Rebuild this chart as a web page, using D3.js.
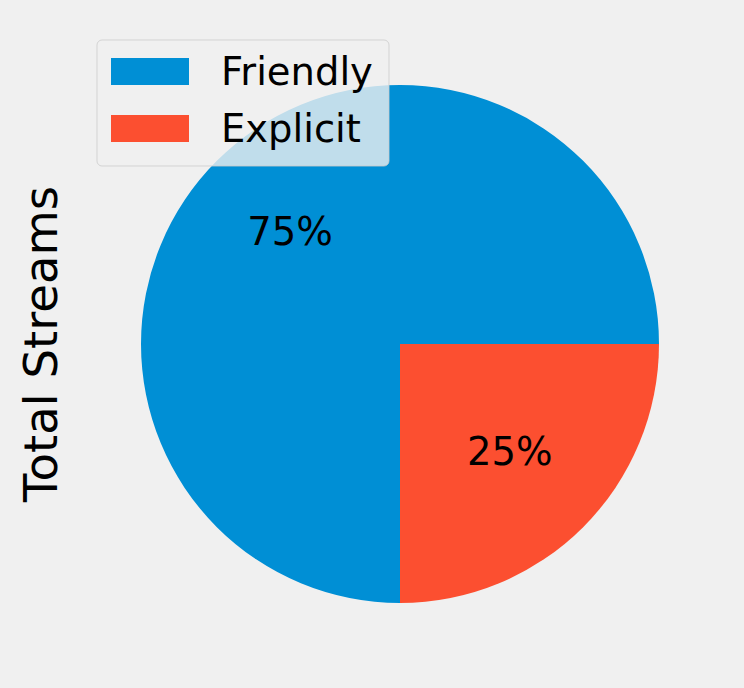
<!DOCTYPE html>
<html><head><meta charset="utf-8">
<script src="https://cdn.jsdelivr.net/npm/d3@7"></script>
<style>html,body{margin:0;padding:0;background:#f0f0f0;}svg{display:block;}</style>
</head><body>
<script>
const categories = ["Friendly", "Explicit"];
const values = [75, 25];
const colors = ["#008fd5", "#fc4f30"];
const yLabel = "Total Streams";

const W = 744, H = 688;
const cx = 400, cy = 344, R = 259;
const font = "'DejaVu Sans', sans-serif";

const svg = d3.select("body").append("svg").attr("width", W).attr("height", H);
svg.append("rect").attr("width", W).attr("height", H).attr("fill", "#f0f0f0");

const total = d3.sum(values);
const pie = d3.pie().sort(null).startAngle(Math.PI / 2).endAngle(Math.PI / 2 - 2 * Math.PI);
const arcs = pie(values);
const arc = d3.arc().innerRadius(0).outerRadius(R);
const labelArc = d3.arc().innerRadius(0.6 * R).outerRadius(0.6 * R);

const g = svg.append("g").attr("transform", `translate(${cx},${cy})`);
g.selectAll("path.slice").data(arcs).join("path")
  .attr("class", "slice")
  .attr("d", arc)
  .attr("fill", (d, i) => colors[i]);

g.selectAll("text.pct").data(arcs).join("text")
  .attr("class", "pct")
  .attr("transform", d => `translate(${labelArc.centroid(d)})`)
  .attr("text-anchor", "middle")
  .attr("dy", "0.28em")
  .attr("font-family", font)
  .attr("font-size", 38.5)
  .attr("fill", "#000")
  .text(d => Math.round(d.value / total * 100) + "%");

svg.append("text")
  .attr("transform", `translate(57,${cy}) rotate(-90)`)
  .attr("text-anchor", "middle")
  .attr("font-family", font)
  .attr("font-size", 46.5)
  .attr("fill", "#000")
  .text(yLabel);

// legend
const lg = svg.append("g");
lg.append("rect")
  .attr("x", 97).attr("y", 40).attr("width", 292).attr("height", 126)
  .attr("rx", 5).attr("ry", 5)
  .attr("fill", "#f0f0f0").attr("fill-opacity", 0.8)
  .attr("stroke", "#cccccc").attr("stroke-opacity", 0.8).attr("stroke-width", 1);
const items = lg.selectAll("g.item").data(categories).join("g")
  .attr("class", "item")
  .attr("transform", (d, i) => `translate(0,${i * 57})`);
items.append("rect")
  .attr("x", 111).attr("y", 58).attr("width", 78).attr("height", 27)
  .attr("fill", (d, i) => colors[i]);
items.append("text")
  .attr("x", 221).attr("y", 85)
  .attr("font-family", font)
  .attr("font-size", 38.5)
  .attr("fill", "#000")
  .text(d => d);
</script>
</body></html>
